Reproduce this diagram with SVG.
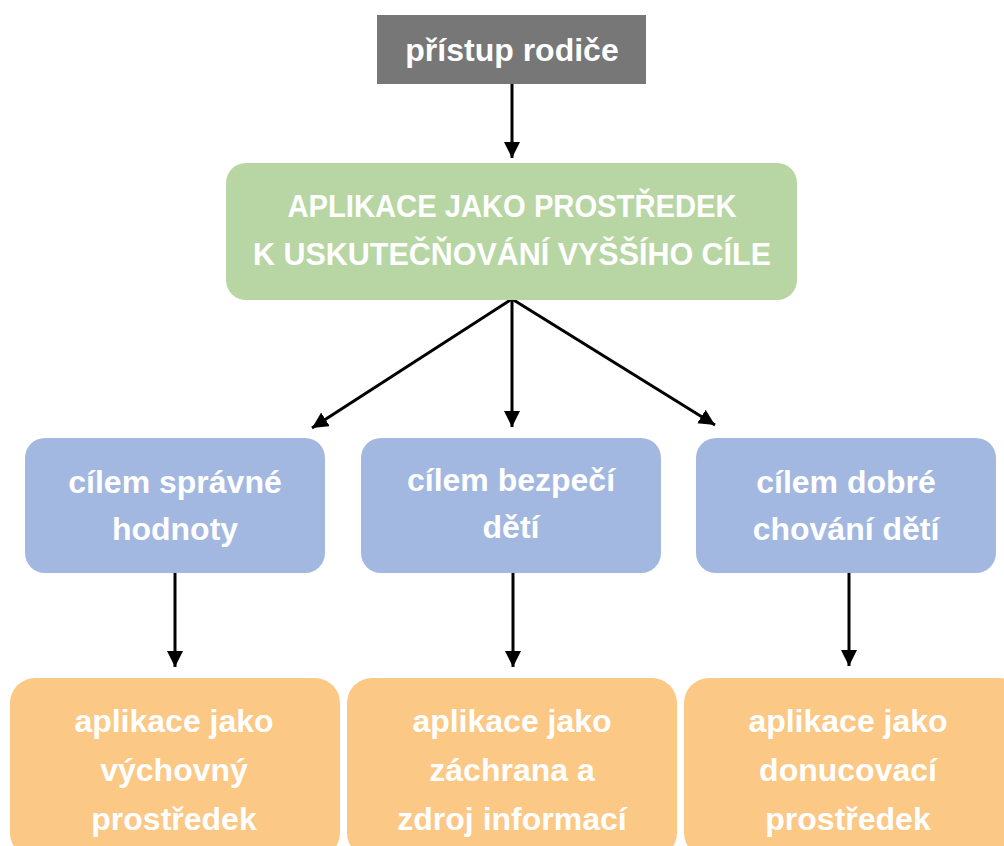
<svg xmlns="http://www.w3.org/2000/svg" width="1004" height="846" viewBox="0 0 1004 846">
<style>
text{font-family:"Liberation Sans",Arial,sans-serif;font-weight:bold;fill:#ffffff;text-anchor:middle;font-size:32px}
.gray{fill:#777777}
.green{fill:#b8d6a4}
.blue{fill:#a2b8e0}
.orange{fill:#fbc886}
.conn{stroke:#000;stroke-width:3;fill:none;marker-end:url(#ah)}
</style>
<defs>
<marker id="ah" markerUnits="userSpaceOnUse" markerWidth="16" markerHeight="16" viewBox="0 0 12 12" refX="12" refY="6" orient="auto">
<path d="M0,0 L12,6 L0,12 z" fill="#000"/>
</marker>
</defs>
<rect width="1004" height="846" fill="#ffffff"/>
<g id="connectors">
<line class="conn" x1="512" y1="84" x2="512" y2="158"/>
<line class="conn" x1="512" y1="299" x2="312" y2="428"/>
<line class="conn" x1="512" y1="299" x2="512" y2="427"/>
<line class="conn" x1="512" y1="299" x2="715" y2="425"/>
<line class="conn" x1="175" y1="572" x2="175" y2="667"/>
<line class="conn" x1="513" y1="572" x2="513" y2="667"/>
<line class="conn" x1="849" y1="572" x2="849" y2="666"/>
</g>
<g id="n-pristup">
<rect class="gray" x="377" y="15" width="269" height="69"/>
<text x="512" y="61">přístup rodiče</text>
</g>
<g id="n-aplikace">
<rect class="green" x="226" y="163" width="571" height="137" rx="20"/>
<text x="512" y="217" font-size="32" textLength="449" lengthAdjust="spacingAndGlyphs">APLIKACE JAKO PROSTŘEDEK</text>
<text x="512" y="265" font-size="32" textLength="518" lengthAdjust="spacingAndGlyphs">K USKUTEČŇOVÁNÍ VYŠŠÍHO CÍLE</text>
</g>
<g id="n-hodnoty">
<rect class="blue" x="25" y="438" width="300" height="135" rx="20"/>
<text x="175" y="493">cílem správné</text>
<text x="175" y="540">hodnoty</text>
</g>
<g id="n-bezpeci">
<rect class="blue" x="361" y="438" width="300" height="135" rx="20"/>
<text x="511" y="491">cílem bezpečí</text>
<text x="511" y="538">dětí</text>
</g>
<g id="n-chovani">
<rect class="blue" x="696" y="438" width="300" height="135" rx="20"/>
<text x="846" y="493">cílem dobré</text>
<text x="846" y="540">chování dětí</text>
</g>
<g id="n-vychovny">
<rect class="orange" x="10" y="678" width="330" height="180" rx="25"/>
<text x="174" y="732">aplikace jako</text>
<text x="174" y="781">výchovný</text>
<text x="174" y="830">prostředek</text>
</g>
<g id="n-zachrana">
<rect class="orange" x="347" y="678" width="330" height="180" rx="25"/>
<text x="512" y="732">aplikace jako</text>
<text x="512" y="781">záchrana a</text>
<text x="512" y="830">zdroj informací</text>
</g>
<g id="n-donucovaci">
<rect class="orange" x="684" y="678" width="340" height="180" rx="25"/>
<text x="848" y="732">aplikace jako</text>
<text x="848" y="781">donucovací</text>
<text x="848" y="830">prostředek</text>
</g>
</svg>
